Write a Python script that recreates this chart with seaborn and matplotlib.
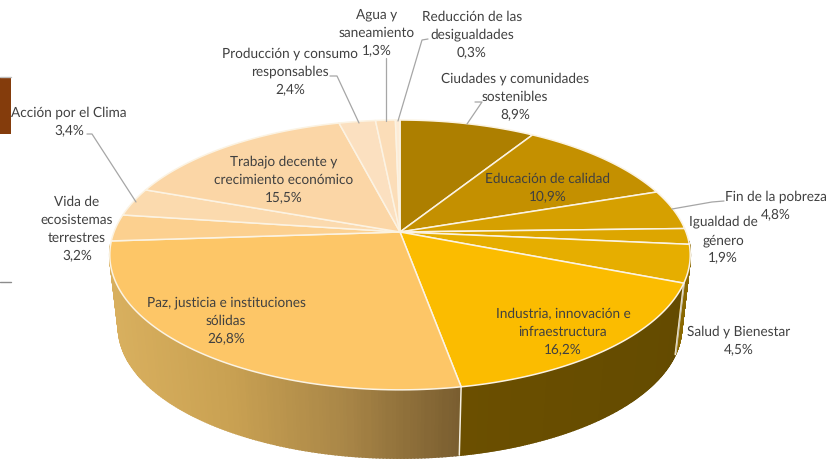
import numpy as np
import seaborn as sns
import matplotlib.pyplot as plt
from matplotlib.patches import Rectangle

sns.set_theme(style='white')
plt.rcParams['font.family'] = ['Lato', 'DejaVu Sans']
plt.rcParams['text.hinting'] = 'none'

names = ['Ciudades y comunidades\nsostenibles', 'Educación de calidad', 'Fin de la pobreza',
         'Igualdad de\ngénero', 'Salud y Bienestar', 'Industria, innovación e\ninfraestructura',
         'Paz, justicia e instituciones\nsólidas', 'Vida de\necosistemas\nterrestres',
         'Acción por el Clima', 'Trabajo decente y\ncrecimiento económico',
         'Producción y consumo\nresponsables', 'Agua y\nsaneamiento',
         'Reducción de las\ndesigualdades']
values = [8.9, 10.9, 4.8, 1.9, 4.5, 16.2, 26.8, 3.2, 3.4, 15.5, 2.4, 1.3, 0.3]
colors = ['#AD7F00', '#C49000', '#D6A000', '#DDA600', '#E6AE00', '#FBBC00', '#FDC667',
          '#FCD08F', '#FBDAAE', '#FBD6A6', '#FBE0C0', '#FBDDB8', '#FDEBD5']

# label centres in pixels, same order as names
label_x = [515, 548, 776, 723, 739, 563, 226, 77, 69, 284, 290, 377, 472]
label_y = [96, 187, 205, 239, 340, 331, 320, 228, 121, 179, 71, 32, 34]

# leader lines, (xs, ys) in pixels
leaders = [([475, 482, 467], [102, 102, 124]),
           ([724, 712, 672], [201, 202, 209]),
           ([87, 92, 136], [134, 134, 202]),
           ([330, 337, 359], [76, 76, 123]),
           ([386, 386], [58, 121]),
           ([428, 422, 398], [39, 40, 121])]

# pie geometry
cx, cy = 400, 232
rx, ry, k = 286, 131, 0.17
drop, shrink = 73, 0.97


def rim(turn):
    # turn is clockwise from the top, 0..1 of the circle
    t = 2 * np.pi * np.asarray(turn)
    u, v = np.sin(t), np.cos(t)
    return cx + rx * u / (1 + k * v), cy - ry * v / (1 + k * v)


def low(x, y):
    return cx + shrink * (x - cx), cy + drop + shrink * (y - cy)


def side(t0, t1, palette, x0, x1):
    ts = np.linspace(t0, t1, 160)
    for a, b in zip(ts[:-1], ts[1:]):
        xs, ys = rim(np.array([a, b]))
        bx, by = low(xs, ys)
        i = int(np.clip((xs.mean() - x0) / (x1 - x0), 0, 0.999) * len(palette))
        ax.fill([xs[0], xs[1], bx[1], bx[0]], [ys[0], ys[1], by[1], by[0]],
                facecolor=palette[i], edgecolor=palette[i], lw=1.2, zorder=1)


fig, ax = plt.subplots(figsize=(8.28, 4.62), dpi=100)
fig.subplots_adjust(0, 0, 1, 1)
ax.set_xlim(0, 828)
ax.set_ylim(462, 0)
ax.axis('off')

total = sum(values)
edges = np.cumsum([0] + values) / total

# side wall, only the slices turned towards the viewer
side(0.735, edges[6], sns.blend_palette(['#D8AF5E', '#C9A152', '#A98647', '#7A5E30'], 80), 113, 462)
side(edges[5], edges[6], sns.blend_palette(['#6B4F00', '#644B00'], 40), 460, 690)
side(edges[4] - 0.004, edges[5], sns.blend_palette(['#8A6800', '#8A6800'], 4), 0, 828)

for i in [5, 6]:
    x, y = rim(edges[i])
    bx, by = low(x, y)
    ax.plot([x, bx], [y, by], color='#F5EFE2', lw=1.1, zorder=2)
x, y = rim(edges[5] - 0.002)
bx, by = low(x, y)
ax.plot([x, bx], [y, by], color='#C8C0A8', lw=0.8, zorder=2)

# top of the pie
for i, c in enumerate(colors):
    xs, ys = rim(np.linspace(edges[i], edges[i + 1], 80))
    ax.fill(np.r_[cx, xs], np.r_[cy, ys], facecolor=c, edgecolor='#FBF3E3', lw=1.1,
            joinstyle='round', zorder=3)

for xs, ys in leaders:
    ax.plot(xs, ys, color='#A6A6A6', lw=0.9, zorder=4)

for name, v, x, y in zip(names, values, label_x, label_y):
    pct = f'{v:.1f}%'.replace('.', ',')
    ax.text(x, y + 1, f'{name}\n{pct}', ha='center', va='center', fontsize=9.8,
            color='#404040', linespacing=1.52, zorder=5)

# leftovers of the slide behind the chart
ax.add_patch(Rectangle((0, 77), 11, 57, facecolor='#843C0C', edgecolor='none'))
ax.plot([0, 11], [76.5, 76.5], color='#BFBFBF', lw=1)
ax.plot([0, 11], [282, 282], color='#8C8C8C', lw=1)

fig.savefig('out.png', dpi=100)
